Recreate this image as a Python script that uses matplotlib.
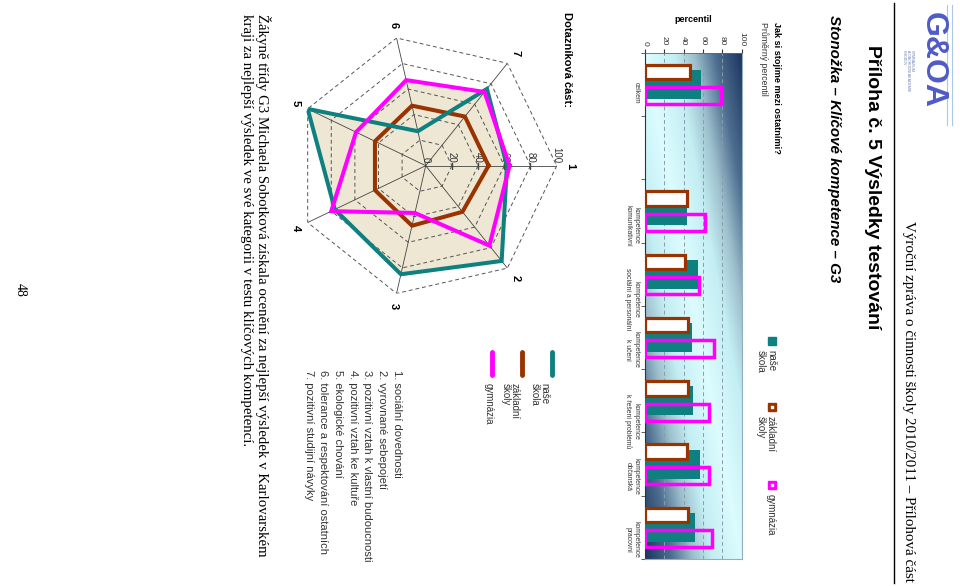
import numpy as np
import matplotlib
matplotlib.use('Agg')
import matplotlib.pyplot as plt
from matplotlib.colors import LinearSegmentedColormap
from matplotlib.lines import Line2D
from matplotlib.patches import Rectangle
from matplotlib.transforms import offset_copy

# --- data ---------------------------------------------------------------
bar_categories = ['celkem', 'kompetence\nkomunikativní', 'kompetence\nsociální a personální',
                  'kompetence\nk učení', 'kompetence\nk řešení problémů',
                  'kompetence\nobčanská', 'kompetence\npracovní']
nase_skola = [58, 43, 55, 49, 50, 57, 52]
zakladni_skoly = [47, 43, 41, 44, 44, 43, 44]
gymnazia = [79, 62, 56, 71, 66, 66, 69]
value_ticks = [0, 20, 40, 60, 80, 100]

radar_axes = ['1', '2', '3', '4', '5', '6', '7']
radar_nase = [62, 93, 85, 77, 100, 27, 75]
radar_zakladni = [48, 45, 47, 43, 43, 47, 48]
radar_gymnazia = [64, 78, 37, 80, 59, 67, 72]
radar_levels = [20, 40, 60, 80, 100]

radar_list = ['1. sociální dovednosti', '2. vyrovnané sebepojetí',
              '3. pozitivní vztah k vlastní budoucnosti', '4. pozitivní vztah ke kultuře',
              '5. ekologické chování', '6. tolerance a respektování ostatních',
              '7. pozitivní studijní návyky']

TEAL = '#0f8080'
BROWN = '#993300'
MAG = '#ff00ff'
BEIGE = '#ede7d3'

plt.rcParams['font.family'] = ['Liberation Sans', 'DejaVu Sans']
SERIF = ['Liberation Serif', 'DejaVu Serif']

W, H = 960, 586
fig = plt.figure(figsize=(9.6, 5.86), dpi=100)
fig.patch.set_facecolor('white')


def fx(x):
    return x / W


def fy(y):
    return 1 - y / H


def vtext(x, y, s, size, va='top', ha='center', **kw):
    # page is turned, all text runs top -> bottom
    fig.text(fx(x), fy(y), s, rotation=-90, ha=ha, va=va, fontsize=size, **kw)


# --- header ---------------------------------------------------------------
fig.add_artist(Line2D([fx(894), fx(894)], [fy(3), fy(583)], color='black', lw=1))
vtext(908, 582, 'Výroční zpráva o činnosti školy 2010/2011 – Přílohová část', 10.8,
      va='bottom', family=SERIF)
vtext(872, 45, 'Příloha č. 5 Výsledky testování', 14, fontweight='bold')
vtext(834, 15, 'Stonožka – Klíčové kompetence – G3', 10.9, fontweight='bold', style='italic')

# logo
vtext(933, 12, 'G&OA', 23, fontweight='bold', color='#4f5bc6')
for lx in (947, 952):
    fig.add_artist(Line2D([fx(lx), fx(lx)], [fy(5), fy(125)], color='#a8c8ea', lw=0.8))
for lx, s in zip((912, 908, 904), ('GYMNÁZIUM', 'A OBCHODNÍ AKADEMIE', 'CHODOV')):
    vtext(lx, 50, s, 2.6, color='#6a7bb0')

# --- bar chart ----------------------------------------------------------------
vtext(776, 22, 'Jak si stojíme mezi ostatními?', 6.6, fontweight='bold')
vtext(764, 22, 'Průměrný percentil', 6.3, color='#333333')
fig.text(fx(693), fy(20), 'percentil', ha='center', va='center', fontsize=6.5, fontweight='bold')

n_slots = 8
pos = np.array([0] + list(range(2, n_slots)))

bx = fig.add_axes([fx(645), fy(559), (741.7 - 645) / W, (559 - 52.7) / H])
grad = LinearSegmentedColormap.from_list(
    'g', [(0, '#dcfcfe'), (0.3, '#c3eef3'), (0.5, '#9ec0cd'), (0.72, '#4e6f90'), (1, '#1d3461')])
gu, gv = np.meshgrid(np.linspace(0, 1, 200), np.linspace(0, 1, 400))
bx.imshow(np.abs(gu - gv), extent=(0, 100, n_slots - 0.5, -0.5), aspect='auto',
          cmap=grad, vmin=0, vmax=1, zorder=0, interpolation='bilinear')

bx.barh(pos, nase_skola, height=0.46, color=TEAL, zorder=3)
bx.barh(pos - 0.195, zakladni_skoly, height=0.23, facecolor='white', edgecolor=BROWN,
        linewidth=2.3, zorder=4)
bx.barh(pos + 0.18, gymnazia, height=0.27, facecolor='none', edgecolor=MAG,
        linewidth=2.5, zorder=5)

bx.set_xlim(0, 100)
bx.set_ylim(n_slots - 0.5, -0.5)
bx.set_axisbelow(True)
bx.grid(axis='x', ls=(0, (4, 3)), color='#8a9cab', lw=0.7)
bx.xaxis.tick_top()
bx.set_xticks(value_ticks)
bx.set_xticklabels([str(v) for v in value_ticks])
bx.tick_params(axis='x', labelrotation=-90, labelsize=6, length=3, pad=2, colors='#333333')
bx.set_yticks(pos)
bx.set_yticklabels(bar_categories)
bx.tick_params(axis='y', which='major', labelrotation=-90, labelsize=4.9, length=0, pad=4,
               labelcolor='#333333')
for t in bx.get_yticklabels():
    t.set_multialignment('center')
bx.set_yticks(np.arange(-0.5, n_slots, 1), minor=True)
bx.tick_params(axis='y', which='minor', length=3, direction='out', color='#444444')
bx.spines['left'].set_color('#333333')
bx.spines['top'].set_color('#666666')
bx.spines['top'].set_linewidth(0.6)
bx.spines['right'].set_color('#8fb0bd')
bx.spines['bottom'].set_color('#8fb0bd')

# bar legend
for y0, col, dot, lines in ((341, TEAL, False, ('naše', 'škola')),
                            (407, BROWN, True, ('základní', 'školy')),
                            (485, MAG, True, ('gymnázia',))):
    fig.add_artist(Rectangle((fx(768), fy(y0 + 4)), 8 / W, 8 / H, color=col))
    if dot:
        fig.add_artist(Rectangle((fx(771), fy(y0 + 1)), 2 / W, 2 / H, color='white'))
    for i, s in enumerate(lines):
        vtext(771 - 10 * i, y0 + 9, s, 7, color='#333333')

# --- radar -----------------------------------------------------------------
vtext(567, 12, 'Dotazníková část:', 8, fontweight='bold')

cx, cy, R = 425.7, 165.7, 131
rx = fig.add_axes([fx(cx - R), fy(cy + R), 2 * R / W, 2 * R / H], projection='polar')
rx.set_theta_zero_location('E')
rx.set_theta_direction(-1)
ang = np.arange(len(radar_axes)) * 2 * np.pi / len(radar_axes)
closed = np.append(ang, ang[0])


def close(v):
    return np.append(v, v[0])


rx.fill(closed, close(radar_nase), color=BEIGE, lw=0, zorder=1)
rx.fill(closed, close(radar_gymnazia), color=BEIGE, lw=0, zorder=1)
for lev in radar_levels:
    rx.plot(closed, [lev] * len(closed), color='#555555', lw=0.7, ls=(0, (4, 3)), zorder=2)
for a in ang:
    rx.plot([a, a], [0, 100], color='#444444', lw=0.6, zorder=2)
rx.plot([0] * len(radar_levels), radar_levels, ls='none', marker='|', ms=4, color='#444444', zorder=2)

rx.plot(closed, close(radar_zakladni), color=BROWN, lw=2.9, solid_joinstyle='miter', zorder=4)
rx.plot(closed, close(radar_nase), color=TEAL, lw=2.9, solid_joinstyle='miter', zorder=4)
rx.plot(closed, close(radar_gymnazia), color=MAG, lw=2.9, solid_joinstyle='miter', zorder=5)

rx.set_ylim(0, 100)
rx.set_xticks([])
rx.set_yticks([])
rx.grid(False)
rx.spines['polar'].set_visible(False)
rx.patch.set_alpha(0)

lab_tr = offset_copy(rx.transData, fig=fig, x=0, y=3, units='dots')
for lev in [0] + radar_levels:
    rx.text(0, lev, str(lev), transform=lab_tr, rotation=-90, ha='center', va='bottom',
            fontsize=7, color='#333333')
for a, s in zip(ang, radar_axes):
    rx.text(a, 110, s, rotation=-90, ha='center', va='center', fontsize=8, fontweight='bold')

# radar legend
for lx, col in ((551.7, TEAL), (521.7, BROWN), (491.7, MAG)):
    fig.add_artist(Line2D([fx(lx), fx(lx)], [fy(352), fy(375)], color=col, lw=3.5,
                          solid_capstyle='round'))
for lx, s in ((544, 'naše'), (535, 'škola'), (515, 'základní'), (506, 'školy'), (489, 'gymnázia')):
    vtext(lx, 383, s, 7, color='#333333')

for i, s in enumerate(radar_list):
    vtext(396.7 - 14.7 * i, 370, s, 8, color='#333333')

# --- footer text -------------------------------------------------------------
vtext(263, 14, 'Žákyně třídy G3 Michaela Sobotková získala ocenění za nejlepší výsledek v Karlovarském',
      10.75, family=SERIF)
vtext(246, 14, 'kraji za nejlepší výsledek ve své kategorii v testu klíčových kompetencí.',
      10.75, family=SERIF)
vtext(20, 290, '48', 10, va='center', family=SERIF)

fig.savefig('out.png', dpi=100)
